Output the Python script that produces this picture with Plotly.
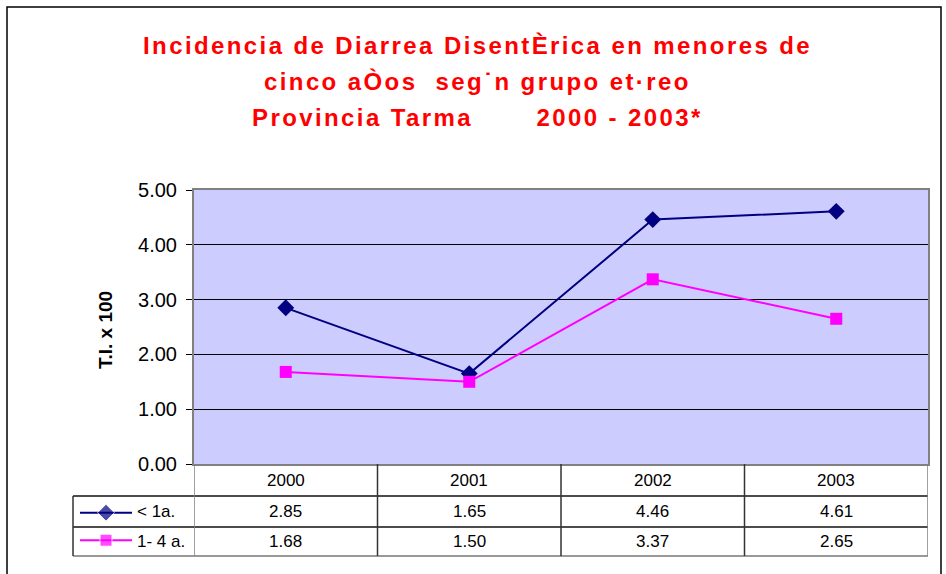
import plotly.graph_objects as go

# ---- data ----
years = ["2000", "2001", "2002", "2003"]
series_names = ["< 1a.", "1- 4 a."]
menor_1 = [2.85, 1.65, 4.46, 4.61]
de_1_a_4 = [1.68, 1.50, 3.37, 2.65]
y_ticks = [0, 1, 2, 3, 4, 5]

W, H = 946, 574
FONT = "Liberation Sans, Arial, sans-serif"
NAVY = "#000080"
MAGENTA = "#FF00FF"


def px_x(p):
    return p / W


def px_y(p):
    return 1 - p / H


# plot area pixels
PL, PR, PT, PB = 194, 928, 190, 464
# table rows (pixels)
R_HEAD_BOT, R1_BOT, R2_BOT = 496, 527, 556
LEG_LEFT = 73

fig = go.Figure()

xi = list(range(len(years)))
fig.add_trace(go.Scatter(
    x=xi, y=menor_1, mode="lines+markers", name=series_names[0],
    line=dict(color=NAVY, width=2),
    marker=dict(symbol="diamond", size=13, color=NAVY),
    showlegend=False, cliponaxis=False))
fig.add_trace(go.Scatter(
    x=xi, y=de_1_a_4, mode="lines+markers", name=series_names[1],
    line=dict(color=MAGENTA, width=2),
    marker=dict(symbol="square", size=12, color=MAGENTA),
    showlegend=False, cliponaxis=False))

# legend samples in the data-table (on helper axes)
fig.add_trace(go.Scatter(
    x=[0, 0.5, 1], y=[0, 0, 0], mode="lines+markers",
    line=dict(color=NAVY, width=2),
    marker=dict(symbol="diamond", size=[0, 13, 0], color=NAVY),
    xaxis="x2", yaxis="y2", showlegend=False, hoverinfo="skip", cliponaxis=False))
fig.add_trace(go.Scatter(
    x=[0, 0.5, 1], y=[1, 1, 1], mode="lines+markers",
    line=dict(color=MAGENTA, width=2),
    marker=dict(symbol="square", size=[0, 12, 0], color=MAGENTA),
    xaxis="x2", yaxis="y2", showlegend=False, hoverinfo="skip", cliponaxis=False))

shapes = []
# white background for the legend-sample helper subplot
shapes.append(dict(type="rect", xref="x2 domain", yref="y2 domain",
                   x0=-0.05, x1=1.05, y0=-0.02, y1=1.02, layer="below",
                   line=dict(width=0), fillcolor="white"))
# outer chart border
shapes.append(dict(type="rect", xref="paper", yref="paper",
                   x0=px_x(7), x1=px_x(941), y0=px_y(580), y1=px_y(7),
                   line=dict(color="black", width=1.5), fillcolor="rgba(0,0,0,0)"))

# table horizontal lines
for py, col in [(R_HEAD_BOT, "#111111"), (R1_BOT, "#111111"), (R2_BOT, "#777777")]:
    shapes.append(dict(type="line", xref="paper", yref="paper",
                       x0=px_x(LEG_LEFT), x1=px_x(PR), y0=px_y(py), y1=px_y(py),
                       line=dict(color=col, width=1.5)))
# legend column left line
shapes.append(dict(type="line", xref="paper", yref="paper",
                   x0=px_x(LEG_LEFT), x1=px_x(LEG_LEFT), y0=px_y(R_HEAD_BOT), y1=px_y(R2_BOT),
                   line=dict(color="#333333", width=1.5)))
# table vertical lines at category boundaries
for k in range(len(years) + 1):
    shapes.append(dict(type="line", xref="x", yref="paper",
                       x0=k - 0.5, x1=k - 0.5, y0=px_y(R2_BOT), y1=px_y(PB),
                       line=dict(color="#333333" if 0 < k < len(years) else "#808080", width=1.5)))

annotations = []
# title
title_lines = [
    "Incidencia de Diarrea DisentÈrica en menores de",
    "cinco aÒos\u00a0 seg˙n grupo et·reo",
    "Provincia Tarma\u00a0\u00a0\u00a0\u00a0\u00a0\u00a0 2000 - 2003*",
]
for line, cy in zip(title_lines, [45, 82, 118]):
    annotations.append(dict(text='<b><span style="letter-spacing:2.4px">' + line + "</span></b>",
                            xref="paper", yref="paper",
                            x=px_x(478), y=px_y(cy), showarrow=False,
                            xanchor="center", yanchor="middle",
                            font=dict(family=FONT, size=24, color="#FF0000")))
# y-axis title
annotations.append(dict(text="<b>T.I. x 100</b>", xref="paper", yref="paper",
                        x=px_x(105), y=px_y(330), showarrow=False, textangle=-90,
                        xanchor="center", yanchor="middle",
                        font=dict(family=FONT, size=19, color="black")))
# table header (years)
for k, yr in enumerate(years):
    annotations.append(dict(text=yr, xref="x", yref="paper", x=k, y=px_y(480),
                            showarrow=False, xanchor="center", yanchor="middle",
                            font=dict(family=FONT, size=17, color="black")))
# table values
for row_vals, cy in [(menor_1, 511), (de_1_a_4, 541)]:
    for k, v in enumerate(row_vals):
        annotations.append(dict(text=f"{v:.2f}", xref="x", yref="paper", x=k, y=px_y(cy),
                                showarrow=False, xanchor="center", yanchor="middle",
                                font=dict(family=FONT, size=17, color="black")))
# row labels
for name, cy in zip(series_names, [511, 541]):
    annotations.append(dict(text=name, xref="paper", yref="paper", x=px_x(135), y=px_y(cy),
                            showarrow=False, xanchor="left", yanchor="middle",
                            font=dict(family=FONT, size=17, color="black")))

fig.update_layout(
    template="none",
    width=W, height=H, autosize=False,
    margin=dict(l=0, r=0, t=0, b=0, autoexpand=False),
    paper_bgcolor="white",
    plot_bgcolor="#CCCCFF",
    font=dict(family=FONT, color="black"),
    showlegend=False,
    shapes=shapes,
    annotations=annotations,
    xaxis=dict(domain=[px_x(PL), px_x(PR)], range=[-0.5, len(years) - 0.5],
               showgrid=False, zeroline=False, showticklabels=False, ticks="",
               showline=True, linecolor="#808080", linewidth=2, mirror=True,
               automargin=False, fixedrange=True),
    yaxis=dict(domain=[px_y(PB), px_y(PT)], range=[0, 5],
               tickvals=y_ticks, ticktext=[f"{t:.2f}" for t in y_ticks],
               tickfont=dict(family=FONT, size=20, color="black"),
               ticks="outside", ticklen=6, tickcolor="black", tickwidth=1,
               showgrid=True, gridcolor="black", gridwidth=1,
               zeroline=False,
               showline=True, linecolor="#808080", linewidth=2, mirror=True,
               ticklabelstandoff=5, automargin=False, fixedrange=True),
    xaxis2=dict(domain=[px_x(80), px_x(132)], range=[0, 1], visible=False,
                automargin=False, fixedrange=True),
    yaxis2=dict(domain=[px_y(R2_BOT - 2), px_y(R_HEAD_BOT + 2)], range=[1.5, -0.533],
                visible=False, automargin=False, fixedrange=True),
)

fig.write_html("out.html", config={"displayModeBar": False},
               post_script="document.body.style.margin='0px';")
